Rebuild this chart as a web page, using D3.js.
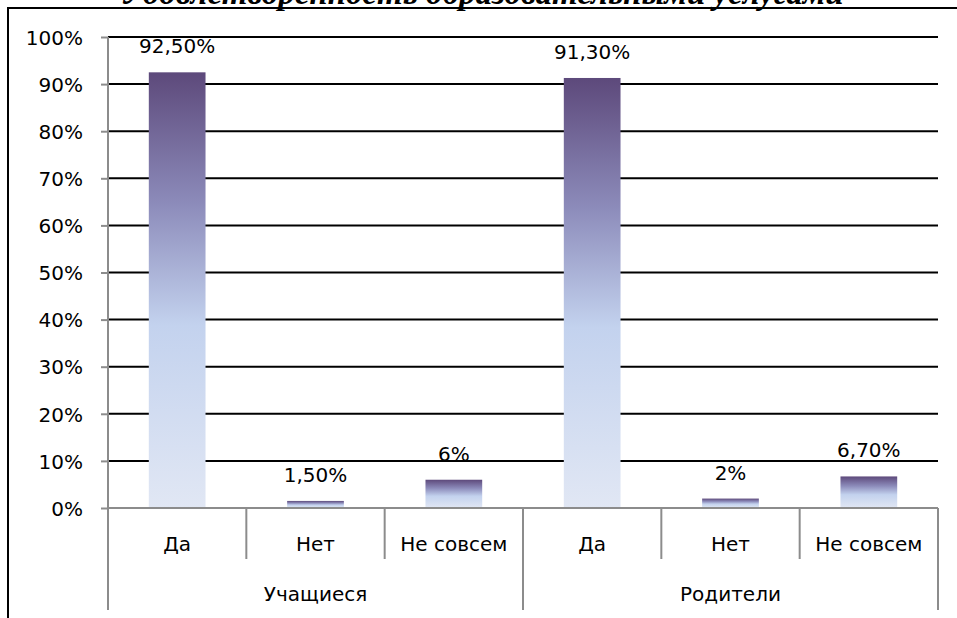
<!DOCTYPE html>
<html>
<head>
<meta charset="utf-8">
<script src="https://cdn.jsdelivr.net/npm/d3@7"></script>
<style>
  body { margin: 0; background: #fff; }
  svg { display: block; }
  text { font-family: "DejaVu Sans", sans-serif; fill: #000; }
</style>
</head>
<body>
<svg id="chart"></svg>
<script>
// data
const title = "Удовлетворенность  образовательными услугами";
const groups = ["Учащиеся", "Родители"];
const answers = ["Да", "Нет", "Не совсем"];
const values = [0.925, 0.015, 0.06, 0.913, 0.02, 0.067];
const valueLabels = ["92,50%", "1,50%", "6%", "91,30%", "2%", "6,70%"];
const yTicks = [0, 0.1, 0.2, 0.3, 0.4, 0.5, 0.6, 0.7, 0.8, 0.9, 1];

const width = 957, height = 618;
const margin = { top: 37, left: 108, right: 19, bottom: 110 };
const fontSize = "20px";

const svg = d3.select("#chart")
    .attr("width", width)
    .attr("height", height);

// gradient for the bars
const grad = svg.append("defs").append("linearGradient")
    .attr("id", "barGrad")
    .attr("x1", 0).attr("y1", 0).attr("x2", 0).attr("y2", 1);
grad.append("stop").attr("offset", "0%").attr("stop-color", "#5d497b");
grad.append("stop").attr("offset", "30%").attr("stop-color", "#8c8bba");
grad.append("stop").attr("offset", "58%").attr("stop-color", "#c3d2ee");
grad.append("stop").attr("offset", "100%").attr("stop-color", "#e1e7f4");

// frame of the picture (cut off on the right and bottom)
svg.append("path")
    .attr("d", `M8,${height} V8 H${width}`)
    .attr("fill", "none")
    .attr("stroke", "#000")
    .attr("stroke-width", 2);

// title, mostly cut off by the top edge (as in the original)
svg.append("text")
    .attr("x", 482)
    .attr("y", 4)
    .attr("text-anchor", "middle")
    .style("font-family", "'Liberation Serif', serif")
    .style("font-weight", "bold")
    .style("font-style", "italic")
    .style("font-size", "33px")
    .text(title);

const plotW = width - margin.left - margin.right;
const plotBottom = 508;

const cats = [];
groups.forEach(g => answers.forEach(a => cats.push(g + "|" + a)));

const x = d3.scaleBand()
    .domain(cats)
    .range([margin.left, margin.left + plotW])
    .paddingInner(0.59)
    .paddingOuter(0.295);

const xOuter = d3.scaleBand()
    .domain(cats)
    .range([margin.left, margin.left + plotW]);

const y = d3.scaleLinear()
    .domain([0, 1])
    .range([plotBottom, margin.top]);

// gridlines
svg.append("g")
    .selectAll("line")
    .data(yTicks.slice(1))
    .join("line")
      .attr("x1", margin.left)
      .attr("x2", margin.left + plotW)
      .attr("y1", d => y(d))
      .attr("y2", d => y(d))
      .attr("stroke", "#000")
      .attr("stroke-width", 2);

// y axis
const yAxis = svg.append("g")
    .attr("transform", `translate(${margin.left},0)`)
    .call(d3.axisLeft(y).tickValues(yTicks).tickSize(7).tickPadding(18)
      .tickFormat(d => Math.round(d * 100) + "%"));
yAxis.select(".domain").remove();
yAxis.selectAll(".tick line").attr("stroke", "#8c8c8c").attr("stroke-width", 2);
yAxis.selectAll(".tick text")
    .style("font-size", fontSize)
    .attr("dy", "0.36em");

svg.append("line")
    .attr("x1", margin.left).attr("x2", margin.left)
    .attr("y1", margin.top).attr("y2", 610)
    .attr("stroke", "#8c8c8c").attr("stroke-width", 2);

// bars
svg.append("g")
    .selectAll("rect")
    .data(values)
    .join("rect")
      .attr("x", (d, i) => x(cats[i]))
      .attr("width", x.bandwidth())
      .attr("y", d => y(d))
      .attr("height", d => plotBottom - y(d))
      .attr("fill", "url(#barGrad)");

// value labels
svg.append("g")
    .selectAll("text")
    .data(values)
    .join("text")
      .attr("x", (d, i) => x(cats[i]) + x.bandwidth() / 2)
      .attr("y", d => y(d) - 19)
      .attr("text-anchor", "middle")
      .style("font-size", fontSize)
      .text((d, i) => valueLabels[i]);

// x axis baseline
svg.append("line")
    .attr("x1", margin.left).attr("x2", margin.left + plotW)
    .attr("y1", plotBottom).attr("y2", plotBottom)
    .attr("stroke", "#8c8c8c").attr("stroke-width", 2);

// category dividers: short ones between answers, long ones between groups
svg.append("g")
    .selectAll("line")
    .data(d3.range(cats.length + 1))
    .join("line")
      .attr("x1", i => margin.left + i * xOuter.step())
      .attr("x2", i => margin.left + i * xOuter.step())
      .attr("y1", plotBottom)
      .attr("y2", i => (i % answers.length === 0) ? 610 : 559)
      .attr("stroke", "#8c8c8c")
      .attr("stroke-width", 2);

// answer labels
svg.append("g")
    .selectAll("text")
    .data(cats)
    .join("text")
      .attr("x", d => xOuter(d) + xOuter.bandwidth() / 2)
      .attr("y", 551)
      .attr("text-anchor", "middle")
      .style("font-size", fontSize)
      .text(d => d.split("|")[1]);

// group labels
svg.append("g")
    .selectAll("text")
    .data(groups)
    .join("text")
      .attr("x", (g, i) => margin.left + (i + 0.5) * answers.length * xOuter.step())
      .attr("y", 601)
      .attr("text-anchor", "middle")
      .style("font-size", fontSize)
      .text(d => d);
</script>
</body>
</html>
